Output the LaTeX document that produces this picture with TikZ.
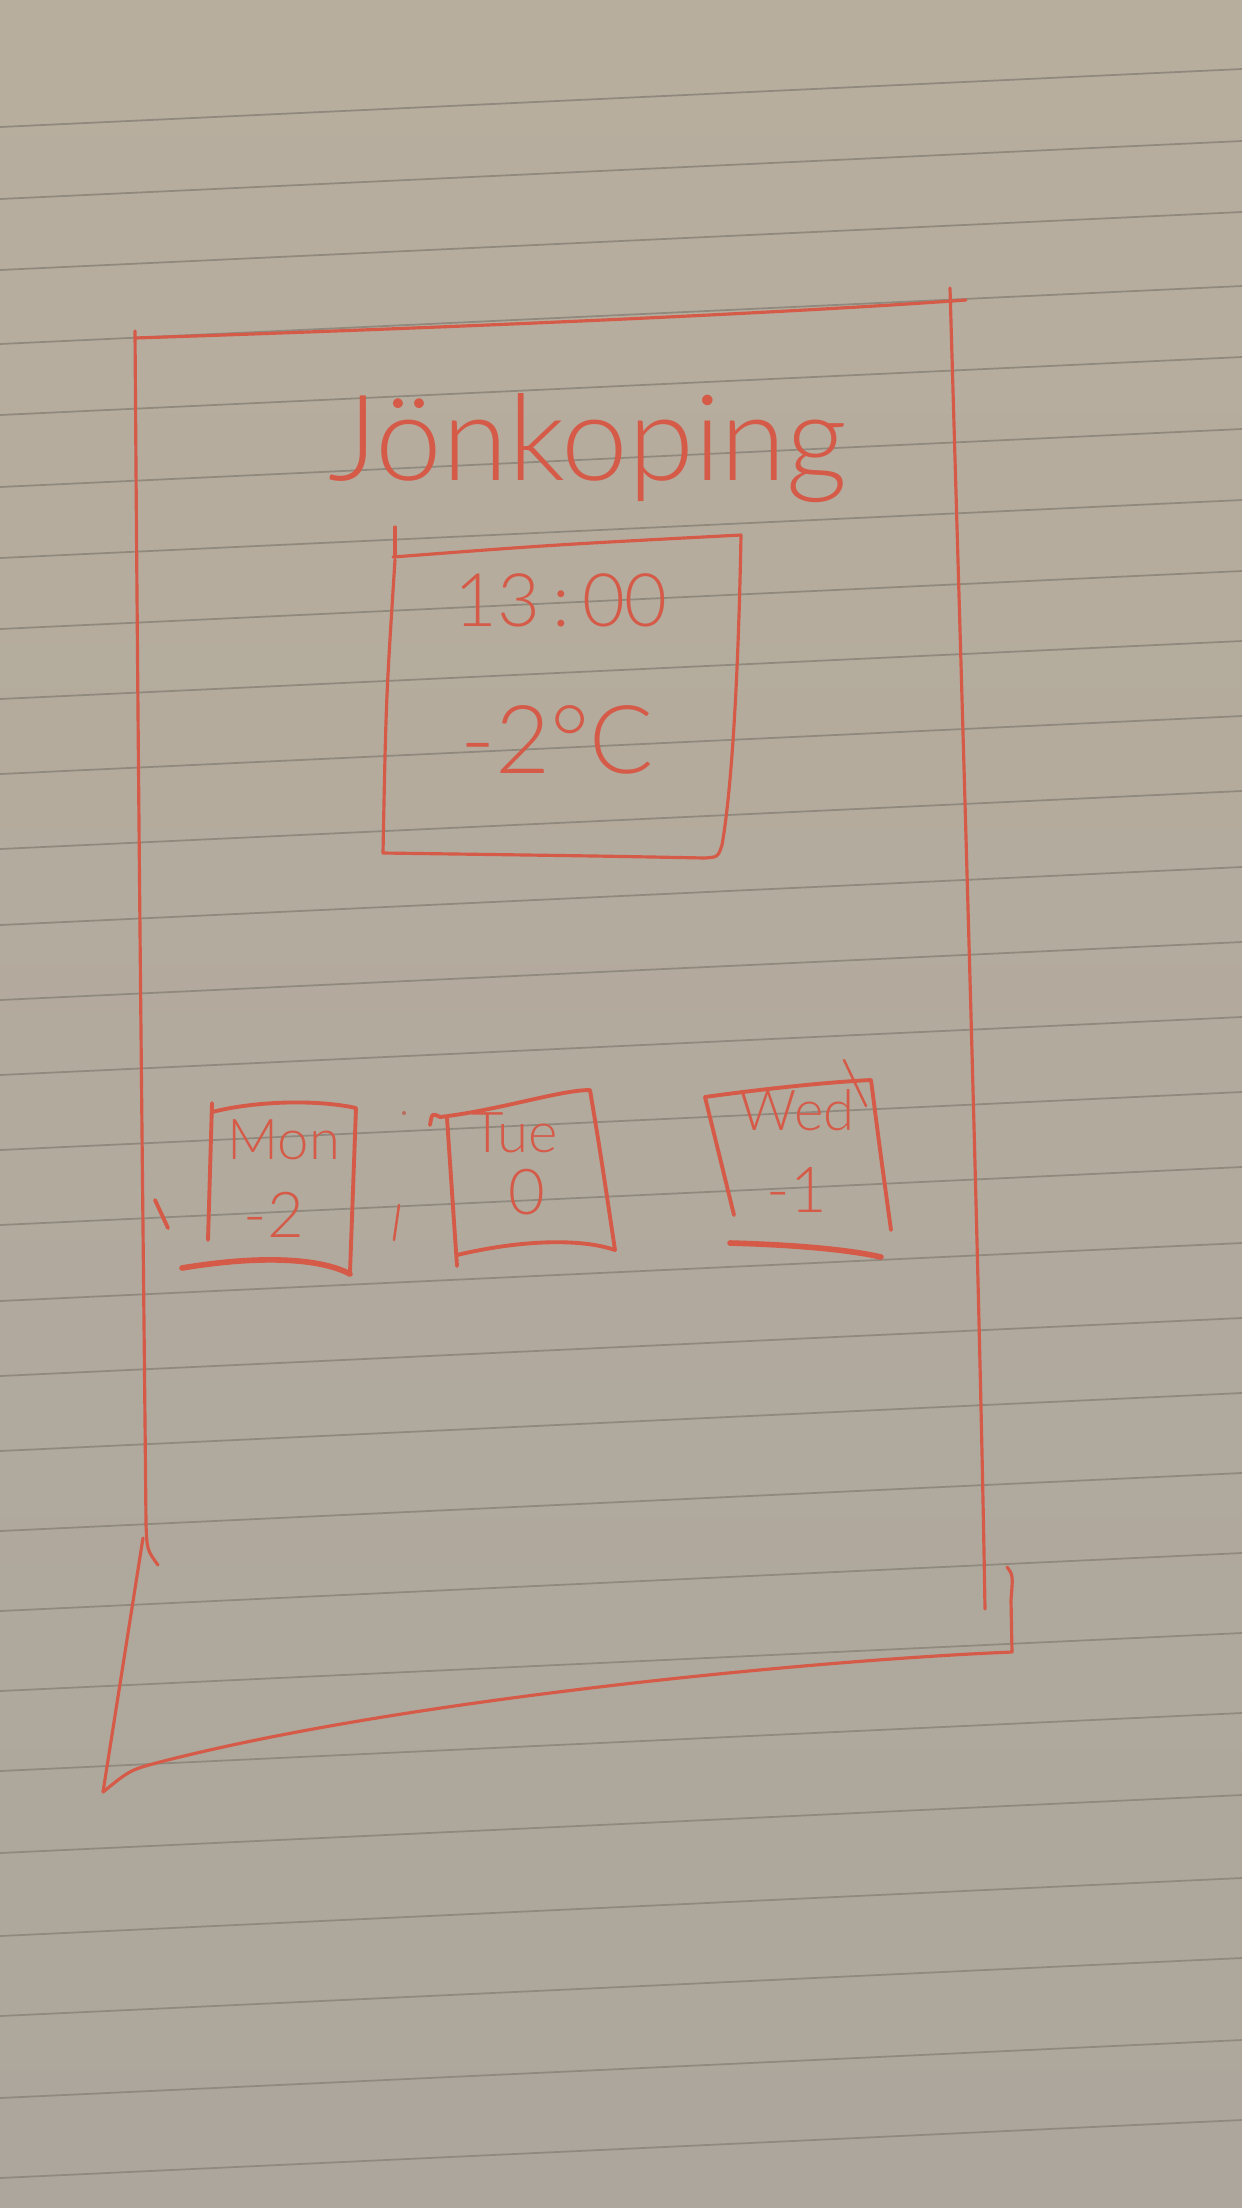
\documentclass[tikz,border=0pt]{standalone}
\usepackage{fontspec}
\IfFontExistsTF{Lato Light}{\setmainfont{Lato Light}}{\setmainfont{Lato}}
\definecolor{penred}{RGB}{214,90,72}
\definecolor{papertop}{RGB}{184,174,158}
\definecolor{paperbot}{RGB}{172,166,156}
\definecolor{ruling}{RGB}{144,137,126}
\begin{document}
\begin{tikzpicture}[x=0.01cm,y=-0.01cm,
  pen/.style={draw=penred,line width=1.1pt,line cap=round,line join=round},
  frame/.style={pen,line width=0.9pt},
  heavypen/.style={pen,line width=1.6pt},
  hand/.style={text=penred,inner sep=0pt,anchor=center}]
% sheet of ruled paper
\useasboundingbox (0,0) rectangle (1242,2208);
\fill[top color=papertop,bottom color=paperbot] (0,0) rectangle (1242,2208);
\foreach \ly in {127,199,270,344,415,487,558,629,699,774,849,925,1000,1075,1150,1225,1301,1376,1451,1531,1611,1691,1771,1853,1936,2016,2098,2178}
  \draw[ruling,line width=0.5pt] (0,\ly) -- (1242,\ly-58);

% phone outline
\draw[frame] (135,331) .. controls (139,900) and (144,1300) .. (146,1524) .. controls (147,1550) .. (158,1565);
\draw[frame] (143,1538) -- (103,1792);
\draw[frame] (135,338) .. controls (500,326) and (800,312) .. (966,300);
\draw[frame] (950,288) .. controls (965,800) and (980,1300) .. (985,1609);
\draw[frame] (1007,1567) .. controls (1013,1575) .. (1011,1600) -- (1012,1652);
\draw[frame] (1012,1652) -- (990,1653) .. controls (800,1662) and (400,1700) .. (160,1762) .. controls (130,1770) .. (103,1792);

% city name
\node[hand,font=\fontsize{34}{40}\selectfont] (city) at (588,448) {Jönkoping};

% current time and temperature panel
\draw[frame] (395,527) -- (395,557);
\draw[frame] (393,557) .. controls (550,545) .. (741,535)
  .. controls (738,700) and (730,800) .. (722,845) .. controls (718,857) .. (705,858)
  .. controls (600,856) .. (383,853) .. controls (386,700) .. (395,560);
\node[hand,font=\fontsize{21}{25}\selectfont] (time) at (561,600) {13\,:\,00};
\node[hand,font=\fontsize{27}{32}\selectfont] (temp) at (557,740) {-2°C};

% forecast card: Monday
\draw[pen] (212,1103) -- (208,1240);
\draw[pen] (212,1112) .. controls (260,1100) and (320,1100) .. (356,1108) -- (350,1272);
\draw[heavypen] (182,1268) .. controls (260,1255) and (320,1258) .. (350,1274);
\draw[pen] (155,1200) -- (168,1228);
\node[hand,font=\fontsize{16}{19}\selectfont] (mon) at (284,1140) {Mon};
\node[hand,font=\fontsize{18}{21}\selectfont] (monT) at (274,1215) {-2};

% separator marks
\draw[pen,line width=0.7pt] (399,1205) -- (394,1240);
\fill[penred!60!ruling] (404,1113) circle (2);

% forecast card: Tuesday
\draw[pen] (430,1125) .. controls (432,1113) .. (440,1117) .. controls (500,1110) and (560,1090) .. (590,1090) .. controls (600,1150) .. (615,1250);
\draw[pen] (447,1118) -- (457,1266);
\draw[pen] (457,1255) .. controls (520,1240) and (580,1238) .. (615,1250);
\node[hand,font=\fontsize{16}{19}\selectfont] (tue) at (515,1133) {Tue};
\node[hand,font=\fontsize{18}{21}\selectfont] (tueT) at (527,1192) {0};

% forecast card: Wednesday
\draw[pen] (705,1097) -- (734,1215);
\draw[pen] (705,1097) .. controls (770,1088) and (830,1082) .. (871,1080) .. controls (880,1150) .. (891,1230);
\draw[pen,line width=0.7pt] (844,1060) -- (866,1106);
\draw[heavypen] (730,1243) .. controls (800,1245) and (850,1250) .. (881,1257);
\node[hand,font=\fontsize{16}{19}\selectfont] (wed) at (797,1110) {Wed};
\node[hand,font=\fontsize{18}{21}\selectfont] (wedT) at (797,1190) {-1};
\end{tikzpicture}
\end{document}
